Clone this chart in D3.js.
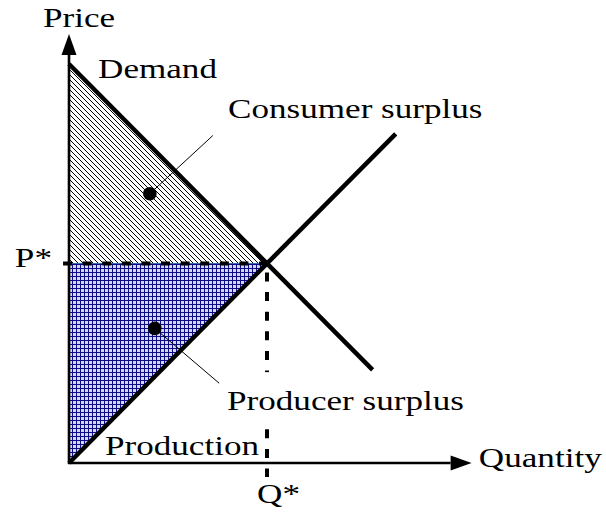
<!DOCTYPE html>
<html>
<head>
<meta charset="utf-8">
<script src="https://cdn.jsdelivr.net/npm/d3@7"></script>
<style>
  html, body { margin: 0; padding: 0; background: #fff; }
  svg text { font-family: "Liberation Serif", "DejaVu Serif", serif; fill: #000; }
</style>
</head>
<body>
<div id="chart"></div>
<script>
// schematic values, in quantity / price units
const demandQ = [0, 9.2];
const demandP = [12, 2.8];
const supplyQ = [0, 9.9];
const supplyP = [0, 9.9];
const eqQ = 6;
const eqP = 6;
const axisEnd = [12.2, 12.9];

// dots in the shaded areas and where their leader lines end
const dotQ = [2.45, 2.6];
const dotP = [8.1, 4.05];
const leaderQ = [4.36, 4.55];
const leaderP = [9.85, 2.4];

const labels = ["Price", "Demand", "Consumer surplus", "P*", "Producer surplus", "Production", "Q*", "Quantity"];
const labelQ = [-0.79, 0.88, 4.82, -1.64, 4.79, 1.09, 5.7, 12.42];
const labelP = [13.11, 11.58, 10.38, 5.89, 1.59, 0.24, -1.2, -0.12];

const width = 606, height = 516;
const stretch = 1.3; // the original lettering is wider than Times

const svg = d3.select("#chart").append("svg")
    .attr("width", width)
    .attr("height", height);

const x = d3.scaleLinear().domain([0, 12]).range([69, 465]);
const y = d3.scaleLinear().domain([0, 12]).range([463, 64]);

const defs = svg.append("defs");

// diagonal hatch for consumer surplus
const hatch = defs.append("pattern")
    .attr("id", "hatch")
    .attr("patternUnits", "userSpaceOnUse")
    .attr("width", 5)
    .attr("height", 5);
hatch.append("rect").attr("width", 5).attr("height", 5).attr("fill", "#fff");
hatch.append("path")
    .attr("d", "M0,0 L5,5 M-1,4 L1,6 M4,-1 L6,1")
    .attr("stroke", "#000")
    .attr("stroke-width", 1);

// blue grid for producer surplus
const grid = defs.append("pattern")
    .attr("id", "grid")
    .attr("patternUnits", "userSpaceOnUse")
    .attr("width", 4)
    .attr("height", 4);
grid.append("rect").attr("width", 4).attr("height", 4).attr("fill", "#d6d6ee");
grid.append("path")
    .attr("d", "M0.5,0 L0.5,4 M0,0.5 L4,0.5")
    .attr("stroke", "#0c0c88")
    .attr("stroke-width", 1);

const line = d3.line().x(d => x(d[0])).y(d => y(d[1]));

// shaded areas
svg.append("path")
    .attr("d", line([[0, demandP[0]], [0, eqP], [eqQ, eqP]]) + "Z")
    .attr("fill", "url(#hatch)")
    .attr("stroke", "#3a6ab0")
    .attr("stroke-width", 1);

svg.append("path")
    .attr("d", line([[0, eqP], [eqQ, eqP], [0, 0]]) + "Z")
    .attr("fill", "url(#grid)")
    .attr("stroke", "#3a6ab0")
    .attr("stroke-width", 1);

// dashed P* and Q* guides
svg.append("line")
    .attr("x1", x(-0.18)).attr("y1", y(eqP))
    .attr("x2", x(eqQ)).attr("y2", y(eqP))
    .attr("stroke", "#000")
    .attr("stroke-width", 4)
    .attr("stroke-dasharray", "9,10.6");

svg.append("line")
    .attr("x1", x(eqQ)).attr("y1", y(eqP) + 9)
    .attr("x2", x(eqQ)).attr("y2", y(-0.42))
    .attr("stroke", "#000")
    .attr("stroke-width", 4)
    .attr("stroke-dasharray", "9,10.6");

// axes with arrow heads
function arrow(x1, y1, x2, y2) {
    const a = Math.atan2(y2 - y1, x2 - x1);
    const len = 21, half = 7.5;
    const bx = x2 - len * Math.cos(a), by = y2 - len * Math.sin(a);
    svg.append("line")
        .attr("x1", x1).attr("y1", y1)
        .attr("x2", bx).attr("y2", by)
        .attr("stroke", "#000")
        .attr("stroke-width", 2.6);
    svg.append("path")
        .attr("d", `M${x2},${y2} L${bx - half * Math.sin(a)},${by + half * Math.cos(a)} L${bx + half * Math.sin(a)},${by - half * Math.cos(a)}Z`)
        .attr("fill", "#000");
}
arrow(x(0), y(0) + 1, x(0), y(axisEnd[1]));
arrow(x(0) - 1, y(0), x(axisEnd[0]), y(0));

// demand and supply curves
svg.append("path")
    .attr("d", line(d3.zip(demandQ, demandP)))
    .attr("stroke", "#000")
    .attr("stroke-width", 4.5)
    .attr("fill", "none");

svg.append("path")
    .attr("d", line(d3.zip(supplyQ, supplyP)))
    .attr("stroke", "#000")
    .attr("stroke-width", 4.5)
    .attr("fill", "none");

// leaders and dots
for (let i = 0; i < dotQ.length; i++) {
    svg.append("line")
        .attr("x1", x(dotQ[i])).attr("y1", y(dotP[i]))
        .attr("x2", x(leaderQ[i])).attr("y2", y(leaderP[i]))
        .attr("stroke", "#000")
        .attr("stroke-width", 1);
    svg.append("circle")
        .attr("cx", x(dotQ[i]))
        .attr("cy", y(dotP[i]))
        .attr("r", 6.8)
        .attr("fill", "#000");
}

// labels
const text = svg.append("g").selectAll("text")
    .data(labels)
    .enter().append("text")
    .attr("x", (d, i) => x(labelQ[i]))
    .attr("y", (d, i) => y(labelP[i]))
    .attr("font-size", 27)
    .text(d => d);

text.each(function() {
    const w = this.getComputedTextLength();
    d3.select(this)
        .attr("textLength", w * stretch)
        .attr("lengthAdjust", "spacingAndGlyphs");
});

// white box behind "Producer surplus" hides part of the dashed Q* guide
text.filter(d => d === "Producer surplus").each(function() {
    const b = this.getBBox();
    svg.insert("rect", "g")
        .attr("x", b.x - 4).attr("y", b.y - 14)
        .attr("width", b.width + 8).attr("height", b.height + 18)
        .attr("fill", "#fff");
});
</script>
</body>
</html>
